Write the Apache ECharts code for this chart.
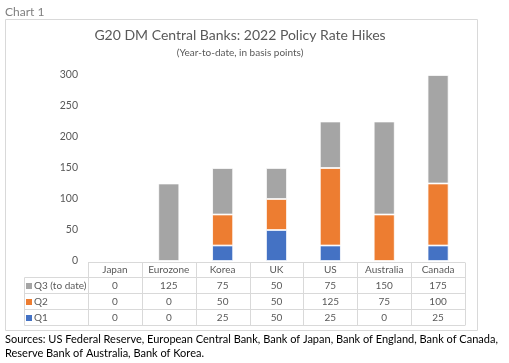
<!DOCTYPE html>
<html><head><meta charset="utf-8">
<script src="https://cdn.jsdelivr.net/npm/echarts@6/dist/echarts.min.js"></script>
<style>html,body{margin:0;padding:0;background:#fff}#c{width:509px;height:363px}</style>
</head><body><div id="c"></div>
<script>
const categories = ['Japan','Eurozone','Korea','UK','US','Australia','Canada'];
const q1 = [0,0,25,50,25,0,25];
const q2 = [0,0,50,50,125,75,100];
const q3 = [0,125,75,50,75,150,175];
const seriesNames = ['Q1','Q2','Q3 (to date)'];
const yMin = 0, yMax = 300, yStep = 50;
const chartLabel = 'Chart 1';
const titleText = 'G20 DM Central Banks: 2022 Policy Rate Hikes';
const subtitleText = '(Year-to-date, in basis points)';
const sourceLines = ['Sources: US Federal Reserve, European Central Bank, Bank of Japan, Bank of England, Bank of Canada,',
                     'Reserve Bank of Australia, Bank of Korea.'];

const colors = ['#4472C4','#ED7D31','#A5A5A5'];
const FONT = 'Lato';
const chart = echarts.init(document.getElementById('c'), null, {renderer:'canvas'});
const allSeries = [q1,q2,q3];

chart.setOption({
  animation:false,
  textStyle:{fontFamily:FONT},
  grid:{left:88,right:44,top:75,bottom:102,containLabel:false},
  xAxis:{type:'category',data:categories,axisLine:{show:false},axisTick:{show:false},axisLabel:{show:false}},
  yAxis:{type:'value',min:yMin,max:yMax,interval:yStep,splitLine:{show:false},axisLine:{show:false},axisTick:{show:false},
    axisLabel:{color:'#595959',fontSize:10.5,margin:10,fontFamily:FONT}},
  series: seriesNames.map((n,i)=>({name:n,type:'bar',stack:'a',data:allSeries[i],barWidth:'39%',
    itemStyle:{color:colors[i],borderColor:'#ffffff',borderWidth:0.8}}))
});

function buildGraphics(){
  const g = [];
  const line = '#d9d9d9';
  const txt = '#595959';
  // frame
  g.push({type:'rect',shape:{x:5.5,y:19.5,width:472,height:311},style:{fill:null,stroke:line,lineWidth:1},z:0});
  g.push({type:'text',x:5,y:12,style:{text:chartLabel,font:'12px '+FONT,fill:'#7f7f7f',verticalAlign:'middle'}});
  g.push({type:'text',x:240,y:35,style:{text:titleText,font:'14px '+FONT,fill:'#595959',align:'center',verticalAlign:'middle'}});
  g.push({type:'text',x:240,y:53,style:{text:subtitleText,font:'10px '+FONT,fill:'#595959',align:'center',verticalAlign:'middle'}});
  sourceLines.forEach((s,i)=>g.push({type:'text',x:5,y:339+i*14,style:{text:s,font:'11px '+FONT,fill:'#000',verticalAlign:'middle'}}));
  // table geometry
  const n = categories.length;
  const c0 = chart.convertToPixel({xAxisIndex:0},0);
  const c1 = chart.convertToPixel({xAxisIndex:0},1);
  const cw = c1-c0;
  const left = c0 - cw/2, right = left + cw*n;
  const rowTop = [262.5,277.5,293.5,309.5,325.5];
  const keyLeft = 24.5;
  g.push({type:'line',shape:{x1:left,y1:rowTop[0],x2:right,y2:rowTop[0]},style:{stroke:line,lineWidth:1}});
  for(let r=1;r<rowTop.length;r++) g.push({type:'line',shape:{x1:keyLeft,y1:rowTop[r],x2:right,y2:rowTop[r]},style:{stroke:line,lineWidth:1}});
  g.push({type:'line',shape:{x1:keyLeft,y1:rowTop[1],x2:keyLeft,y2:rowTop[4]},style:{stroke:line,lineWidth:1}});
  for(let i=0;i<=n;i++){const x=Math.round(left+cw*i)+0.5;g.push({type:'line',shape:{x1:x,y1:rowTop[0],x2:x,y2:rowTop[4]},style:{stroke:line,lineWidth:1}});}
  categories.forEach((c,i)=>{const x=chart.convertToPixel({xAxisIndex:0},i);
    g.push({type:'text',x:x,y:(rowTop[0]+rowTop[1])/2,style:{text:c,font:'10px '+FONT,fill:txt,align:'center',verticalAlign:'middle'}});});
  const order=[2,1,0];
  order.forEach((si,r)=>{
    const yc=(rowTop[r+1]+rowTop[r+2])/2;
    g.push({type:'rect',shape:{x:26,y:Math.round(yc)-3,width:6,height:6},style:{fill:colors[si]}});
    g.push({type:'text',x:34,y:yc,style:{text:seriesNames[si],font:'10px '+FONT,fill:txt,verticalAlign:'middle'}});
    allSeries[si].forEach((v,i)=>{const x=chart.convertToPixel({xAxisIndex:0},i);
      g.push({type:'text',x:x,y:yc,style:{text:String(v),font:'10px '+FONT,fill:txt,align:'center',verticalAlign:'middle'}});});
  });
  chart.setOption({graphic:{elements:g}});
}
buildGraphics();
</script></body></html>
